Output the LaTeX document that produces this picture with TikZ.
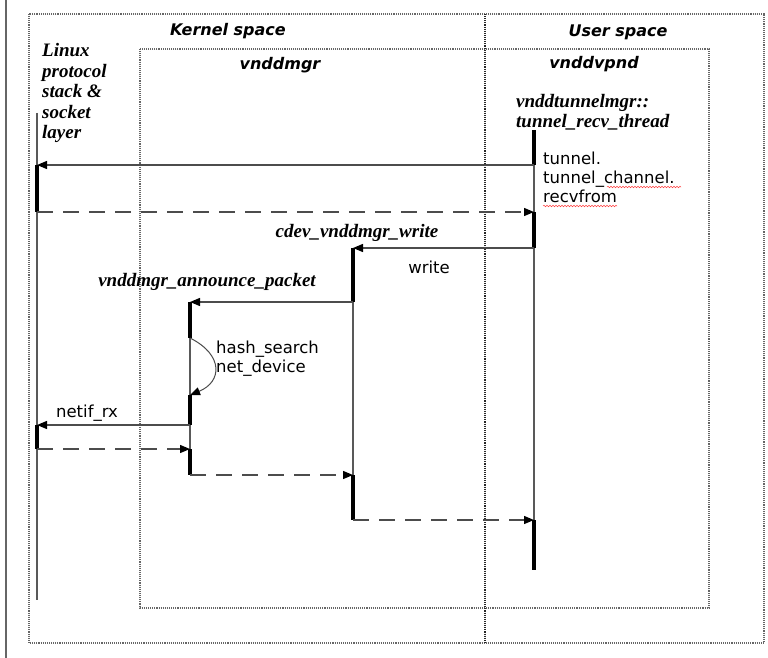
\documentclass[tikz,border=0pt]{standalone}
\usepackage{fontspec}
\setmainfont{Liberation Serif}
\setsansfont{DejaVu Sans}[BoldFont={DejaVu Sans Bold},ItalicFont={DejaVu Sans Oblique},BoldItalicFont={DejaVu Sans Bold Oblique}]
\usetikzlibrary{arrows.meta,decorations.pathmorphing}
\tikzset{
  frame/.style={draw=black!60,densely dotted,line width=1.1pt},
  lifeline/.style={draw=black!65,line width=1.2pt},
  actbar/.style={draw=black,line width=3.5pt},
  call/.style={draw=black!70,line width=1.3pt,-{Triangle[length=10pt,width=8pt,color=black]}},
  reply/.style={call,dash pattern=on 16pt off 10pt},
  fnlabel/.style={font=\fontsize{19}{20.5}\selectfont\bfseries\itshape,inner sep=0pt,align=left},
  arealabel/.style={font=\fontsize{16}{18}\selectfont\sffamily\bfseries\itshape,inner sep=0pt},
  msglabel/.style={font=\fontsize{16.5}{19}\selectfont\sffamily,inner sep=0pt,align=left},
  spell/.style={draw=red!75,line width=0.5pt,decorate,decoration={snake,amplitude=0.8pt,segment length=3pt}}
}
\begin{document}
\begin{tikzpicture}[x=1pt,y=-1pt]
\useasboundingbox (0,0) rectangle (768,658);
% frames
\draw[black!60,line width=1.5pt] (6,0) -- (6,658);
\draw[frame] (29,14) rectangle (764,643);
\draw[frame] (140,49) rectangle (709,608);
\draw[frame,draw=black!85] (485,14) -- (485,643);
\node[arealabel] (kernel) at (228,31) {Kernel space};
\node[arealabel] (user) at (618,32) {User space};
\node[arealabel] (mgr) at (280,65) {vnddmgr};
\node[arealabel] (vpnd) at (594,64) {vnddvpnd};
% lifeline heads
\node[fnlabel,anchor=west] (stack) at (42,93) {Linux\\protocol\\stack \&\\socket\\layer};
\node[fnlabel,anchor=west] (thread) at (516,112) {vnddtunnelmgr::\\tunnel\_recv\_thread};
\node[fnlabel] (cdev) at (357,233) {cdev\_vnddmgr\_write};
\node[fnlabel] (announce) at (207,282) {vnddmgr\_announce\_packet};
% events
\foreach \n/\x/\y in {L0/37/113,L1/37/165,L2/37/212,L7/37/425,L8/37/449,LE/37/600,
  T0/534/130,T1/534/165,T2/534/212,T3/534/248,T10/534/520,T11/534/570,
  C3/353/248,C4/353/302,C9/353/475,C10/353/520,
  A4/190/302,A5/190/338,A6/190/395,A7/190/425,A8/190/449,A9/190/475}
  \coordinate (\n) at (\x,\y);
\foreach \a/\b in {L0/LE,T0/T11,C3/C10,A4/A9}\draw[lifeline] (\a) -- (\b);
\foreach \a/\b in {T0/T1,L1/L2,T2/T3,C3/C4,A4/A5,A6/A7,L7/L8,A8/A9,C9/C10,T10/T11}
  \draw[actbar] (\a) -- (\b);
% messages
\draw[call] (T1) -- (L1);
\draw[reply] (L2) -- (T2);
\draw[call] (T3) -- (C3);
\draw[call] (C4) -- (A4);
\draw[call,line width=1pt] (A5) .. controls (224,355) and (222,382) .. (A6);
\draw[call] (A7) -- (L7);
\draw[reply] (L8) -- (A8);
\draw[reply] (A9) -- (C9);
\draw[reply] (C10) -- (T10);
\node[msglabel,anchor=west] (recv) at (543,177) {tunnel.\\tunnel\_channel.\\recvfrom};
\node[msglabel] (wr) at (429,267) {write};
\node[msglabel,anchor=west] (hash) at (216,359) {hash\_search\\net\_device};
\node[msglabel] (rx) at (87,413) {netif\_rx};
\draw[spell] (607,187) -- (681,187);
\draw[spell] (543,206) -- (617,206);
\end{tikzpicture}
\end{document}
